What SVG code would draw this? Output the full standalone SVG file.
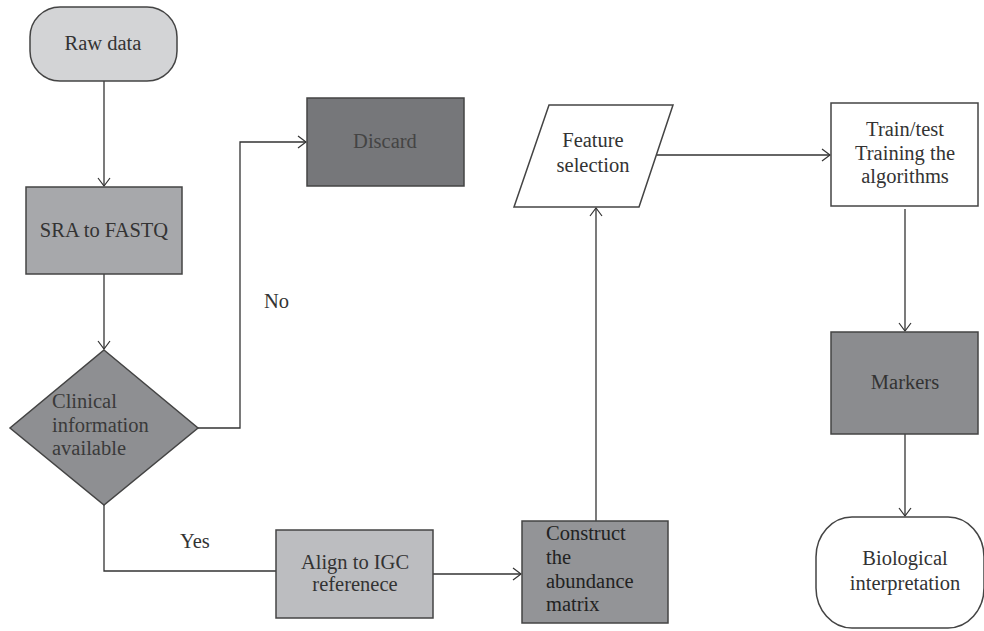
<svg xmlns="http://www.w3.org/2000/svg" width="984" height="631" viewBox="0 0 984 631">
<defs>
<marker id="arr" markerUnits="userSpaceOnUse" markerWidth="12" markerHeight="14" refX="9" refY="7" orient="auto">
<path d="M1,1 L9,7 L1,13" fill="none" stroke="#333" stroke-width="1.2"/>
</marker>
<style>
.box{stroke:#444;stroke-width:1.5}
text{font-family:'Liberation Serif','Times New Roman',serif;font-size:20.5px;fill:#333}
.c{text-anchor:middle}
.ln{fill:none;stroke:#333;stroke-width:1.3}
</style>
</defs>
<rect width="984" height="631" fill="#fff"/>
<g id="connectors">
<path class="ln" d="M104,81 V186" marker-end="url(#arr)"/>
<path class="ln" d="M104,274 V349" marker-end="url(#arr)"/>
<path class="ln" d="M198,428 H240 V142 H306" marker-end="url(#arr)"/>
<path class="ln" d="M104,505 V571 H276"/>
<path class="ln" d="M433,574 H521" marker-end="url(#arr)"/>
<path class="ln" d="M596,521 V208" marker-end="url(#arr)"/>
<path class="ln" d="M657,155 H830" marker-end="url(#arr)"/>
<path class="ln" d="M905,209 V331" marker-end="url(#arr)"/>
<path class="ln" d="M905,434 V516" marker-end="url(#arr)"/>
<text x="264" y="308">No</text>
<text x="180" y="548">Yes</text>
</g>
<g id="raw-data">
<rect class="box" x="30" y="7" width="147" height="74" rx="30" ry="30" fill="#d3d4d6"/>
<text class="c" x="103" y="50">Raw data</text>
</g>
<g id="sra-to-fastq">
<rect class="box" x="26" y="187" width="156" height="87" fill="#a7a8ab"/>
<text class="c" x="104" y="237">SRA to FASTQ</text>
</g>
<g id="clinical">
<polygon class="box" points="104,350 198,428 104,505 10,428" fill="#8e8f92"/>
<text x="52" y="408" style="fill:#3a3a3a">Clinical</text>
<text x="52" y="432" style="fill:#3a3a3a">information</text>
<text x="52" y="455" style="fill:#3a3a3a">available</text>
</g>
<g id="discard">
<rect class="box" x="307" y="98" width="157" height="88" fill="#76777a"/>
<text class="c" x="385" y="148" style="fill:#444">Discard</text>
</g>
<g id="align">
<rect class="box" x="276" y="530" width="157" height="88" fill="#bcbdc0"/>
<text class="c" x="355" y="569">Align to IGC</text>
<text class="c" x="355" y="591">referenece</text>
</g>
<g id="construct">
<rect class="box" x="522" y="521" width="146" height="102" fill="#939497"/>
<text x="546" y="540" style="fill:#222">Construct</text>
<text x="546" y="564" style="fill:#222">the</text>
<text x="546" y="588" style="fill:#222">abundance</text>
<text x="546" y="611" style="fill:#222">matrix</text>
</g>
<g id="feature-selection">
<polygon class="box" points="549,105 673,105 639,207 514,207" fill="#fff"/>
<text class="c" x="593" y="147">Feature</text>
<text class="c" x="593" y="172">selection</text>
</g>
<g id="train-test">
<rect class="box" x="831" y="103" width="147" height="103" fill="#fff"/>
<text class="c" x="905" y="136">Train/test</text>
<text class="c" x="905" y="160">Training the</text>
<text class="c" x="905" y="183">algorithms</text>
</g>
<g id="markers">
<rect class="box" x="831" y="332" width="147" height="102" fill="#8b8c8f"/>
<text class="c" x="905" y="389">Markers</text>
</g>
<g id="biological">
<rect class="box" x="816" y="517" width="168" height="111" rx="36" ry="40" fill="#fff"/>
<text class="c" x="905" y="565">Biological</text>
<text class="c" x="905" y="590">interpretation</text>
</g>
</svg>
